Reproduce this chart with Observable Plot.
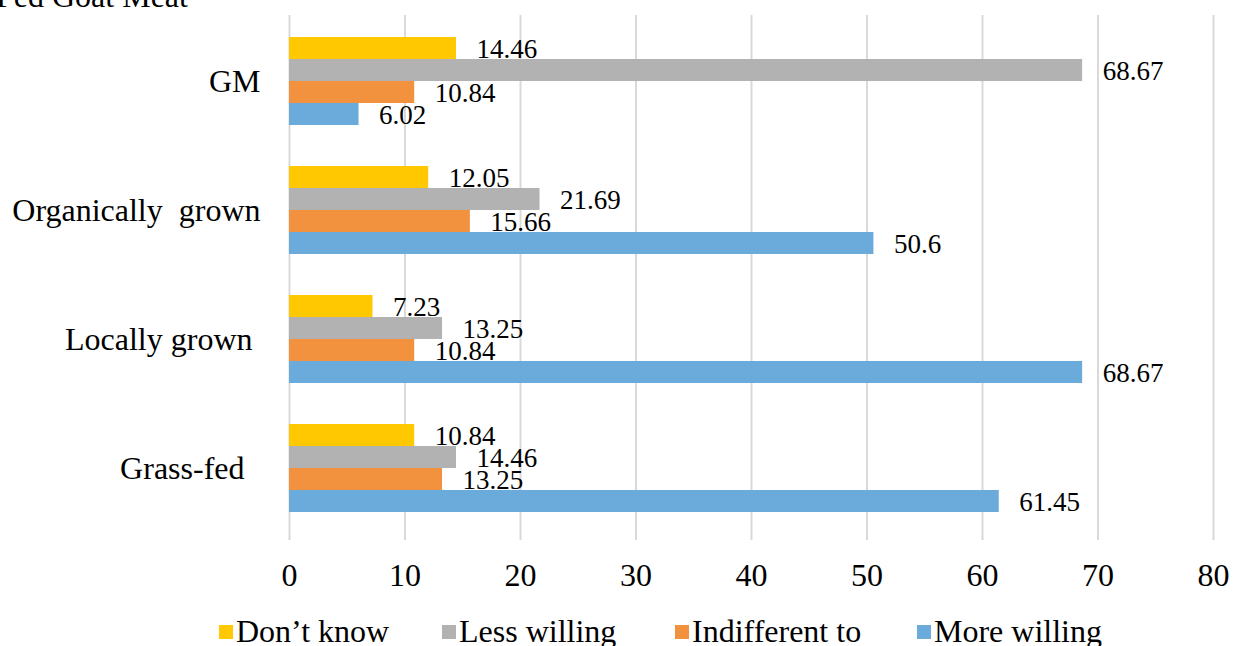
<!DOCTYPE html>
<html><head><meta charset="utf-8">
<script src="https://cdn.jsdelivr.net/npm/d3@7"></script>
<script src="https://cdn.jsdelivr.net/npm/@observablehq/plot@0.6"></script>
<style>body{margin:0;}</style>
</head><body>
<div id="title" style="position:absolute;left:-4px;top:-20px;font-family:'Liberation Serif';font-size:32px;line-height:1;white-space:nowrap">Fed Goat Meat</div>
<div id="p"></div>
<div id="legend" style="position:relative;height:46px;font-family:'Liberation Serif';font-size:32px"></div>
<script>
// ---- data ----
const categories = ["GM", "Organically  grown", "Locally grown ", "Grass-fed  "];
const seriesNames = ["Don\u2019t know", "Less willing", "Indifferent to", "More willing"];
const dontKnow    = [14.46, 12.05, 7.23, 10.84];
const lessWilling = [68.67, 21.69, 13.25, 14.46];
const indifferent = [10.84, 15.66, 10.84, 13.25];
const moreWilling = [6.02, 50.6, 68.67, 61.45];
const xTicks = [0, 10, 20, 30, 40, 50, 60, 70, 80];
const seriesColors = ["#FFC800", "#B2B2B2", "#F2923F", "#6AABDC"];

const seriesValues = [dontKnow, lessWilling, indifferent, moreWilling];
const rows = categories.flatMap((c, i) => seriesNames.map((s, j) => ({category: c, series: s, value: seriesValues[j][i]})));

// ---- layout ----
const W = 1233, H = 600, mt = 15, mb = 67, ml = 289, mr = 20;
const pInner = 0.32, pOuter = 0.162;
const n = categories.length, k = seriesNames.length;
const step = (H - mt - mb) / (n - pInner + 2 * pOuter);
const bw = step * (1 - pInner);
const sub = bw / k;

const marks = [
  Plot.ruleX(xTicks, {stroke: "#D9D9D9", strokeWidth: 2, insetBottom: -7})
];
seriesNames.forEach((s, j) => {
  marks.push(Plot.barX(rows.filter(d => d.series === s), {
    x: "value", y: "category", fill: seriesColors[j],
    insetTop: j * sub, insetBottom: (k - 1 - j) * sub
  }));
});
seriesNames.forEach((s, j) => {
  marks.push(Plot.text(rows.filter(d => d.series === s), {
    x: "value", y: "category", text: d => String(d.value),
    dx: 20, dy: -bw / 2 + sub / 2 + j * sub + 1,
    textAnchor: "start", fontSize: 27
  }));
});

const chart = Plot.plot({
  width: W, height: H,
  marginTop: mt, marginBottom: mb, marginLeft: ml, marginRight: mr,
  style: {fontFamily: "'Liberation Serif'", fontSize: "32px", color: "#000"},
  x: {domain: [0, 80], ticks: xTicks, tickSize: 0, tickPadding: 30, label: null},
  y: {domain: categories, paddingInner: pInner, paddingOuter: pOuter, tickSize: 0, tickPadding: 29, label: null},
  marks
});
document.getElementById("p").appendChild(chart);

// ---- legend ----
const legendLeft = [219, 442, 675, 917];
const legend = document.getElementById("legend");
seriesNames.forEach((s, j) => {
  const item = document.createElement("div");
  item.style.cssText = "position:absolute;top:15px;display:flex;align-items:center;line-height:1;white-space:nowrap";
  item.style.left = legendLeft[j] + "px";
  const sw = document.createElement("div");
  sw.style.cssText = "width:14px;height:14px;margin-right:3px;margin-top:2px";
  sw.style.background = seriesColors[j];
  const t = document.createElement("span");
  t.textContent = s;
  item.appendChild(sw);
  item.appendChild(t);
  legend.appendChild(item);
});
</script>
</body></html>
